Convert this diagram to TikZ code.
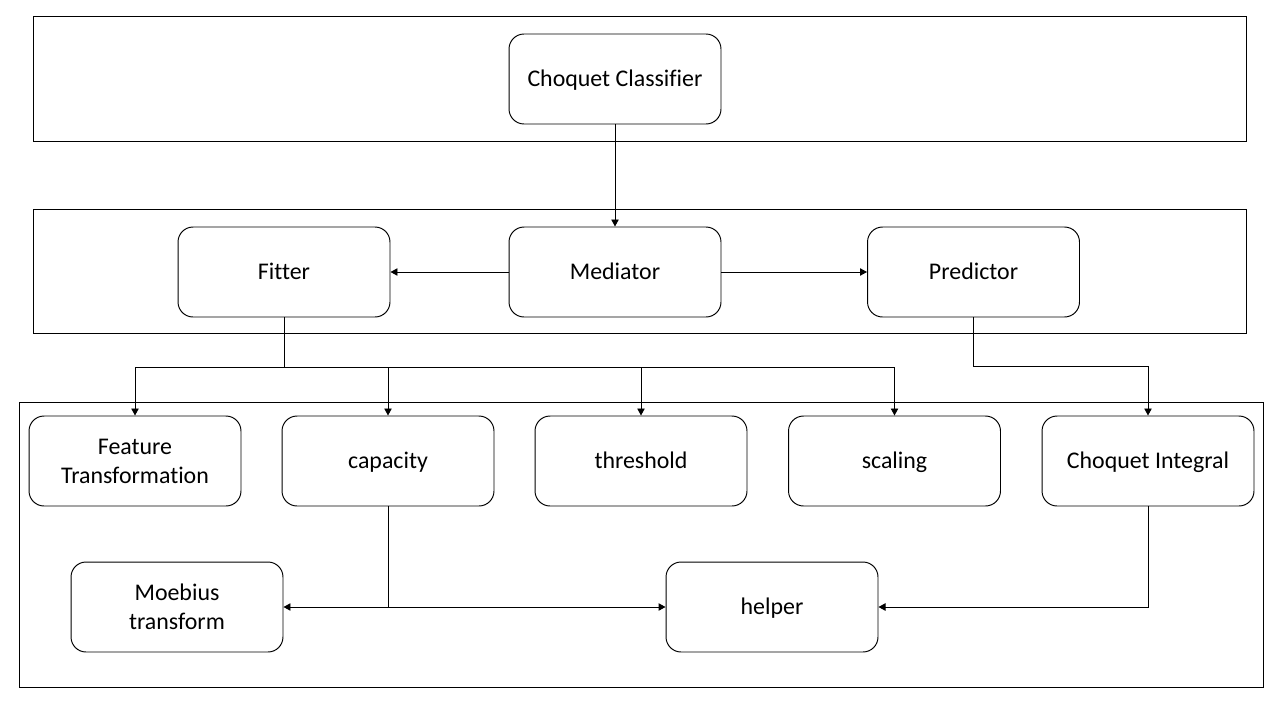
\documentclass[tikz,border=0pt]{standalone}
\usepackage{fontspec}
\setmainfont{Carlito}[Ligatures=NoCommon]
\usetikzlibrary{arrows.meta}
\newcommand{\topstrut}{\rule[-3.24pt]{0pt}{15.24pt}}
\newcommand{\botstrut}{\rule[-3.24pt]{0pt}{3.24pt}}
\newcommand{\highstrut}{\rule{0pt}{28.4pt}}

\begin{document}
\begin{tikzpicture}[x=0.02cm,y=-0.02cm]
\tikzstyle{block}=[rectangle, rounded corners=0.3cm, draw, line width=0.55pt, minimum width=4.24cm, minimum height=1.8cm, inner sep=2pt, align=center, font=\fontsize{13.6pt}{16.4pt}\selectfont, execute at begin node=\topstrut, execute at end node=\botstrut]
\tikzstyle{twoline}=[execute at begin node=\highstrut]
\tikzstyle{arr}=[line width=0.55pt, -{Triangle[length=4pt,width=4.2pt]}]
\useasboundingbox (0,0) rectangle (1280,720);

\draw[line width=0.55pt] (33,16) rectangle (1246,141);
\draw[line width=0.55pt] (33,209) rectangle (1246,333);
\draw[line width=0.55pt] (19,402) rectangle (1263,687);

\node[block] (cc) at (615,79) {Choquet Classifier};
\node[block] (fit) at (284,272) {Fitter};
\node[block] (med) at (615,272) {Mediator};
\node[block] (pred) at (973.5,272) {Predictor};
\node[block,twoline] (ft) at (135,461) {Feature\\Transformation};
\node[block] (cap) at (388,461) {capacity};
\node[block] (thr) at (641,461) {threshold};
\node[block] (sca) at (894.5,461) {scaling};
\node[block] (ci) at (1148,461) {Choquet Integral};
\node[block,twoline] (moe) at (177,607) {Moebius\\transform};
\node[block] (hlp) at (772,607) {helper};

\draw[arr] (cc)--(med);
\draw[arr] (med)--(fit);
\draw[arr] (med)--(pred);
\foreach \t in {ft,cap,thr,sca}
  \draw[arr] (fit.south) -- ++(0,50) -| (\t.north);
\draw[arr] (pred.south) -- ++(0,49) -| (ci.north);
\draw[arr] (cap.south) |- (moe.east);
\draw[arr] (cap.south) |- (hlp.west);
\draw[arr] (ci.south) |- (hlp.east);
\end{tikzpicture}
\end{document}
